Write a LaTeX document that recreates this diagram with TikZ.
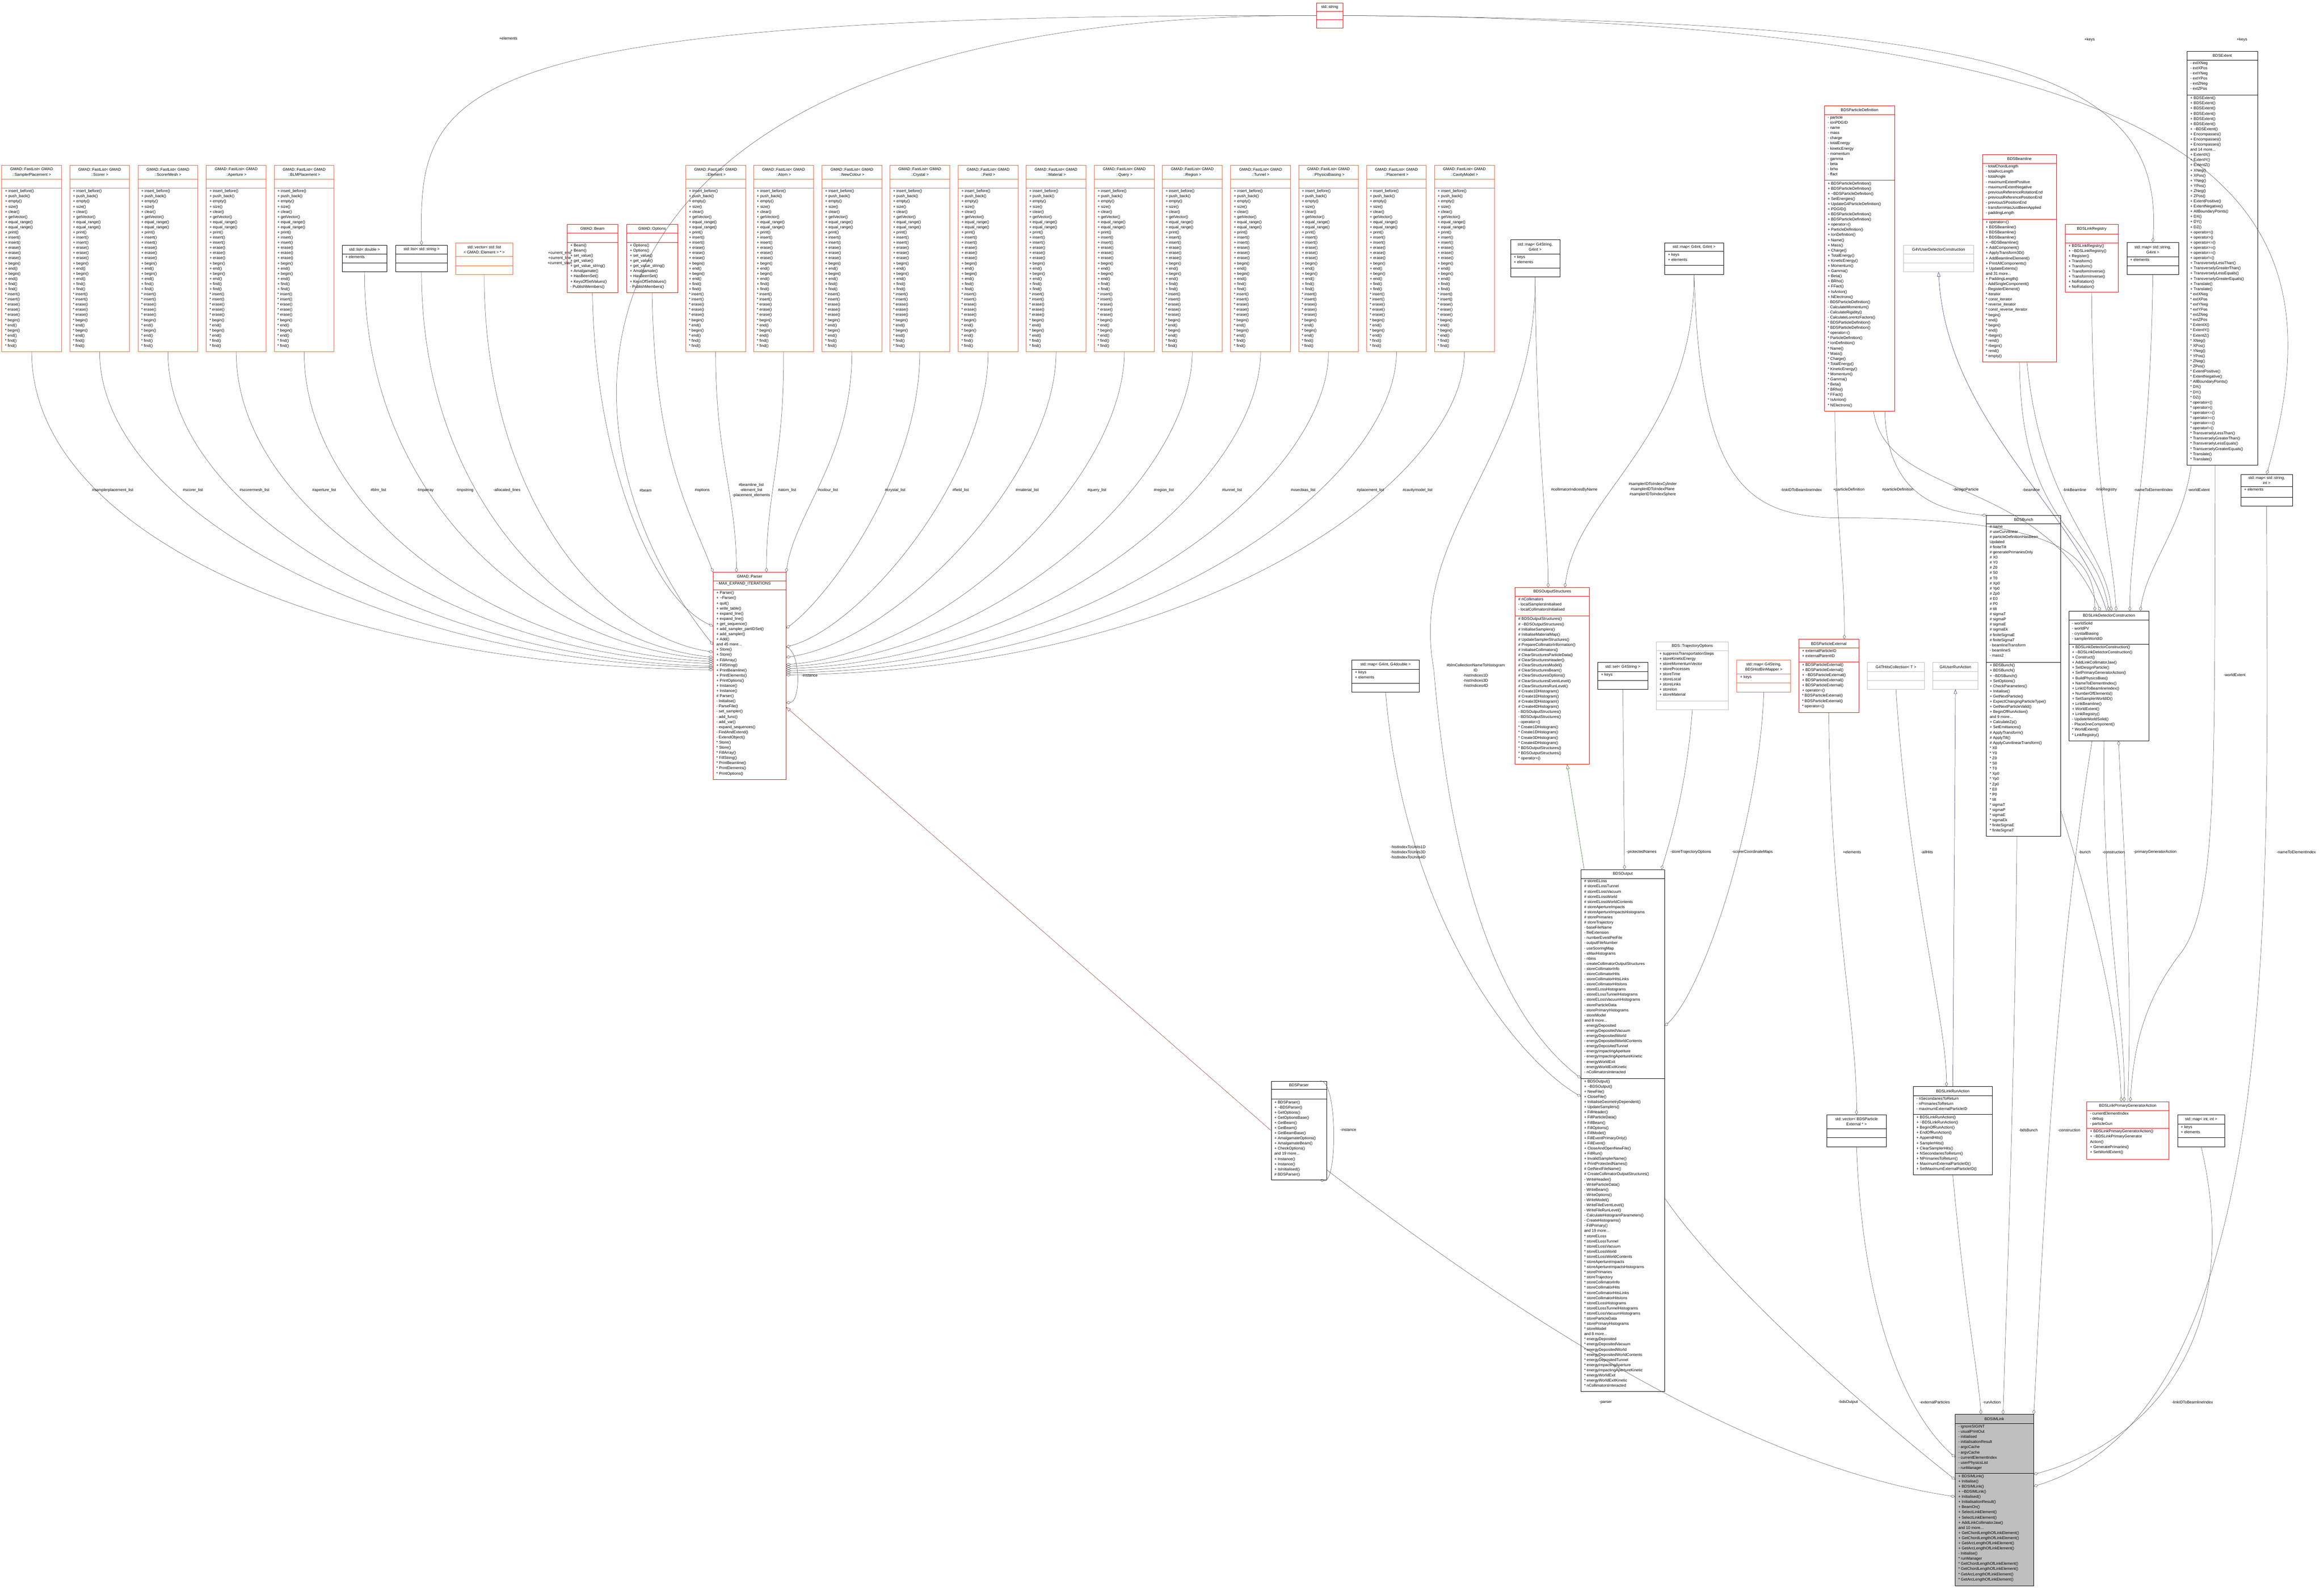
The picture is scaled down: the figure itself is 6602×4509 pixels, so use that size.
\documentclass[tikz,border=0pt]{standalone}
\usepackage{fontspec}
\setmainfont{Liberation Sans}
\usetikzlibrary{fit,calc,arrows.meta}
\definecolor{orb}{RGB}{255,94,40}
\definecolor{rdb}{RGB}{255,0,0}
\definecolor{gyb}{RGB}{191,191,191}
\definecolor{edg}{RGB}{64,64,64}
\definecolor{blu}{RGB}{25,25,112}
\definecolor{grn}{RGB}{0,100,0}
\definecolor{drd}{RGB}{139,26,26}
\newcommand\tl{\textasciitilde}
\newcommand\bx[9]{%
  \node[fit={(#2,#3)(#4,#5)}, inner sep=0pt, #8] (#1) {};
  \draw[#8] (#2,#6) -- (#4,#6) (#2,#7) -- (#4,#7);
  \node[ttl] (#1t) at ({(#2+#4)/2},{(#3+#6)/2}) {#9};}
\newcommand\bA[4]{\node[lst] (#1a) at ({#2+9},{#3+4}) {#4};}
\newcommand\bM[4]{\node[lst] (#1m) at ({#2+9},{#3+4}) {#4};}
\newcommand\lab[4]{\node[lb] (#1) at (#2,#3) {#4};}
\newcommand\flm{+ insert\_before()\\+ push\_back()\\+ empty()\\+ size()\\+ clear()\\+ getVector()\\+ equal\_range()\\+ equal\_range()\\+ print()\\+ insert()\\+ insert()\\+ erase()\\+ erase()\\+ erase()\\+ begin()\\+ end()\\+ begin()\\+ end()\\+ find()\\+ find()\\* insert()\\* insert()\\* erase()\\* erase()\\* erase()\\* begin()\\* end()\\* begin()\\* end()\\* find()\\* find()}
\newcommand\fl[3]{\bx{#1}{#2}{469}{#2+170}{999}{509}{534}{ob}{GMAD::FastList< GMAD\\::#3 >}\bM{#1}{#2}{534}{\flm}}
\tikzset{
  x=0.03cm, y=-0.03cm,
  txt/.style={font=\fontsize{9.5}{12.5}\selectfont},
  ttl/.style={txt, align=center, inner sep=0pt},
  lst/.style={txt, align=left, inner sep=0pt, anchor=north west},
  lb/.style={txt, align=center, inner sep=0pt},
  kb/.style={draw=black, line width=0.7pt},
  ob/.style={draw=orb, line width=0.7pt},
  rb/.style={draw=rdb, line width=0.7pt},
  gb/.style={draw=gyb, line width=0.7pt},
  fb/.style={draw=black, line width=0.7pt, fill=black!25},
  ag/.style={draw=edg, line width=0.55pt, -{Diamond[open,length=11pt,width=7pt]}},
  ih/.style={line width=0.55pt, -{Triangle[open,length=11pt,width=8pt]}},
}
\begin{document}
\begin{tikzpicture}
\useasboundingbox[fill=white] (0,0) rectangle (6602,4509);
% ---------- row 1
\fl{fla}{5}{SamplerPlacement}
\fl{flb}{198}{Scorer}
\fl{flc}{392}{ScorerMesh}
\fl{fld}{586}{Aperture}
\fl{fle}{779}{BLMPlacement}
\bx{ldouble}{972}{696}{1099}{772}{721}{747}{kb}{std::list< double >}\bA{ldouble}{972}{721}{+ elements}
\bx{lstring}{1124}{696}{1271}{772}{721}{747}{kb}{std::list< std::string >}
\bx{vlist}{1294}{689}{1457}{779}{728}{754}{ob}{std::vector< std::list\\< GMAD::Element > * >}
\bx{beam}{1611}{637}{1755}{831}{662}{688}{rb}{GMAD::Beam}
\bM{beam}{1611}{688}{+ Beam()\\+ Beam()\\+ set\_value()\\+ get\_value()\\+ get\_value\_string()\\+ Amalgamate()\\+ HasBeenSet()\\+ KeysOfSetValues()\\- PublishMembers()}
\bx{options}{1780}{637}{1925}{831}{662}{688}{rb}{GMAD::Options}
\bM{options}{1780}{688}{+ Options()\\+ Options()\\+ set\_value()\\+ get\_value()\\+ get\_value\_string()\\+ Amalgamate()\\+ HasBeenSet()\\+ KeysOfSetValues()\\- PublishMembers()}
\fl{fme}{1948}{Element}
\fl{fma}{2141}{Atom}
\fl{fmn}{2335}{NewColour}
\fl{fmc}{2528}{Crystal}
\fl{fmf}{2722}{Field}
\fl{fmm}{2915}{Material}
\fl{fmq}{3109}{Query}
\fl{fmr}{3302}{Region}
\fl{fmt}{3496}{Tunnel}
\fl{fmp}{3689}{PhysicsBiasing}
\fl{fml}{3882}{Placement}
\fl{fmv}{4075}{CavityModel}
\bx{str}{3740}{8}{3815}{80}{32}{56}{rb}{std::string}
% ---------- parser
\bx{parser}{2026}{1625}{2233}{2214}{1649}{1675}{rb}{GMAD::Parser}
\bA{parser}{2026}{1649}{- MAX\_EXPAND\_ITERATIONS}
\bM{parser}{2026}{1675}{+ Parser()\\+ \tl Parser()\\+ quit()\\+ write\_table()\\+ expand\_line()\\+ expand\_line()\\+ get\_sequence()\\+ add\_sampler\_partIDSet()\\+ add\_sampler()\\+ Add()\\and 45 more...\\+ Store()\\+ Store()\\+ FillArray()\\+ FillString()\\+ PrintBeamline()\\+ PrintElements()\\+ PrintOptions()\\+ Instance()\\+ Instance()\\\# Parser()\\- Initialise()\\- ParseFile()\\- set\_sampler()\\- add\_func()\\- add\_var()\\- expand\_sequences()\\- FindAndExtend()\\- ExtendObject()\\* Store()\\* Store()\\* FillArray()\\* FillString()\\* PrintBeamline()\\* PrintElements()\\* PrintOptions()}
% ---------- right top
\bx{mapSI}{4291}{681}{4431}{786}{721}{761}{kb}{std::map< G4String,\\G4int >}\bA{mapSI}{4291}{721}{+ keys\\+ elements}
\bx{mapII}{4729}{689}{4896}{779}{714}{753}{kb}{std::map< G4int, G4int >}\bA{mapII}{4729}{714}{+ keys\\+ elements}
\bx{pdef}{5183}{300}{5382}{1168}{325}{512}{rb}{BDSParticleDefinition}
\bA{pdef}{5183}{325}{- particle\\- ionPDGID\\- name\\- mass\\- charge\\- totalEnergy\\- kineticEnergy\\- momentum\\- gamma\\- beta\\- brho\\- ffact}
\bM{pdef}{5183}{512}{+ BDSParticleDefinition()\\+ BDSParticleDefinition()\\+ \tl BDSParticleDefinition()\\+ SetEnergies()\\+ UpdateG4ParticleDefinition()\\+ PDGID()\\+ BDSParticleDefinition()\\+ BDSParticleDefinition()\\+ operator=()\\+ ParticleDefinition()\\+ IonDefinition()\\+ Name()\\+ Mass()\\+ Charge()\\+ TotalEnergy()\\+ KineticEnergy()\\+ Momentum()\\+ Gamma()\\+ Beta()\\+ BRho()\\+ FFact()\\+ IsAnIon()\\+ NElectrons()\\- BDSParticleDefinition()\\- CalculateMomentum()\\- CalculateRigidity()\\- CalculateLorentzFactors()\\* BDSParticleDefinition()\\* BDSParticleDefinition()\\* operator=()\\* ParticleDefinition()\\* IonDefinition()\\* Name()\\* Mass()\\* Charge()\\* TotalEnergy()\\* KineticEnergy()\\* Momentum()\\* Gamma()\\* Beta()\\* BRho()\\* FFact()\\* IsAnIon()\\* NElectrons()}
\bx{gvudc}{5407}{696}{5607}{772}{722}{747}{gb}{G4VUserDetectorConstruction}
\bx{beamline}{5632}{439}{5842}{1028}{464}{622}{rb}{BDSBeamline}
\bA{beamline}{5632}{464}{- totalChordLength\\- totalArcLength\\- totalAngle\\- maximumExtentPositive\\- maximumExtentNegative\\- previousReferenceRotationEnd\\- previousReferencePositionEnd\\- previousSPositionEnd\\- transformHasJustBeenApplied\\- paddingLength}
\bM{beamline}{5632}{622}{+ operator=()\\+ BDSBeamline()\\+ BDSBeamline()\\+ BDSBeamline()\\+ \tl BDSBeamline()\\+ AddComponent()\\+ ApplyTransform3D()\\+ AddBeamlineElement()\\+ PrintAllComponents()\\+ UpdateExtents()\\and 31 more...\\+ PaddingLength()\\- AddSingleComponent()\\- RegisterElement()\\* iterator\\* const\_iterator\\* reverse\_iterator\\* const\_reverse\_iterator\\* begin()\\* end()\\* begin()\\* end()\\* rbegin()\\* rend()\\* rbegin()\\* rend()\\* empty()}
\bx{linkreg}{5867}{637}{6017}{830}{664}{689}{rb}{BDSLinkRegistry}
\bM{linkreg}{5867}{689}{+ BDSLinkRegistry()\\+ \tl BDSLinkRegistry()\\+ Register()\\+ Transform()\\+ Transform()\\+ TransformInverse()\\+ TransformInverse()\\+ NoRotation()\\+ NoRotation()}
\bx{mapSG}{6042}{688}{6189}{779}{729}{754}{kb}{std::map< std::string,\\G4int >}\bA{mapSG}{6042}{729}{+ elements}
\bx{extent}{6213}{146}{6413}{1321}{171}{270}{kb}{BDSExtent}
\bA{extent}{6213}{171}{- extXNeg\\- extXPos\\- extYNeg\\- extYPos\\- extZNeg\\- extZPos}
\bM{extent}{6213}{270}{+ BDSExtent()\\+ BDSExtent()\\+ BDSExtent()\\+ BDSExtent()\\+ BDSExtent()\\+ BDSExtent()\\+ \tl BDSExtent()\\+ Encompasses()\\+ Encompasses()\\+ Encompasses()\\and 14 more...\\+ ExtentX()\\+ ExtentY()\\+ ExtentZ()\\+ XNeg()\\+ XPos()\\+ YNeg()\\+ YPos()\\+ ZNeg()\\+ ZPos()\\+ ExtentPositive()\\+ ExtentNegative()\\+ AllBoundaryPoints()\\+ DX()\\+ DY()\\+ DZ()\\+ operator<()\\+ operator>()\\+ operator<=()\\+ operator>=()\\+ operator==()\\+ operator!=()\\+ TransverselyLessThan()\\+ TransverselyGreaterThan()\\+ TransverselyLessEquals()\\+ TransverselyGreaterEquals()\\+ Translate()\\+ Translate()\\* extXNeg\\* extXPos\\* extYNeg\\* extYPos\\* extZNeg\\* extZPos\\* ExtentX()\\* ExtentY()\\* ExtentZ()\\* XNeg()\\* XPos()\\* YNeg()\\* YPos()\\* ZNeg()\\* ZPos()\\* ExtentPositive()\\* ExtentNegative()\\* AllBoundaryPoints()\\* DX()\\* DY()\\* DZ()\\* operator<()\\* operator>()\\* operator<=()\\* operator>=()\\* operator==()\\* operator!=()\\* TransverselyLessThan()\\* TransverselyGreaterThan()\\* TransverselyLessEquals()\\* TransverselyGreaterEquals()\\* Translate()\\* Translate()}
\bx{mapSi}{6366}{1347}{6512}{1437}{1382}{1412}{kb}{std::map< std::string,\\int >}\bA{mapSi}{6366}{1382}{+ elements}
% ---------- middle
\bx{bunch}{5643}{1464}{5854}{2375}{1487}{1881}{kb}{BDSBunch}
\bA{bunch}{5643}{1487}{\# name\\\# useCurvilinear\\\# particleDefinitionHasBeen\\Updated\\\# finiteTilt\\\# generatePrimariesOnly\\\# X0\\\# Y0\\\# Z0\\\# S0\\\# T0\\\# Xp0\\\# Yp0\\\# Zp0\\\# E0\\\# P0\\\# tilt\\\# sigmaT\\\# sigmaP\\\# sigmaE\\\# sigmaEk\\\# finiteSigmaE\\\# finiteSigmaT\\- beamlineTransform\\- beamlineS\\- mass2}
\bM{bunch}{5643}{1881}{+ BDSBunch()\\+ BDSBunch()\\+ \tl BDSBunch()\\+ SetOptions()\\+ CheckParameters()\\+ Initialise()\\+ GetNextParticle()\\+ ExpectChangingParticleType()\\+ GetNextParticleValid()\\+ BeginOfRunAction()\\and 9 more...\\+ CalculateZp()\\+ SetEmittances()\\\# ApplyTransform()\\\# ApplyTilt()\\\# ApplyCurvilinearTransform()\\* X0\\* Y0\\* Z0\\* S0\\* T0\\* Xp0\\* Yp0\\* Zp0\\* E0\\* P0\\* tilt\\* sigmaT\\* sigmaP\\* sigmaE\\* sigmaEk\\* finiteSigmaE\\* finiteSigmaT}
\bx{ldc}{5877}{1735}{6105}{2104}{1761}{1829}{kb}{BDSLinkDetectorConstruction}
\bA{ldc}{5877}{1761}{- worldSolid\\- worldPV\\- crystalBiasing\\- samplerWorldID}
\bM{ldc}{5877}{1829}{+ BDSLinkDetectorConstruction()\\+ \tl BDSLinkDetectorConstruction()\\+ Construct()\\+ AddLinkCollimatorJaw()\\+ SetDesignParticle()\\+ SetPrimaryGeneratorAction()\\+ BuildPhysicsBias()\\+ NameToElementIndex()\\+ LinkIDToBeamlineIndex()\\+ NumberOfElements()\\+ SetSamplerWorldID()\\+ LinkBeamline()\\+ WorldExtent()\\+ LinkRegistry()\\- UpdateWorldSolid()\\- PlaceOneComponent()\\* WorldExtent()\\* LinkRegistry()}
\bx{mapID}{3840}{1874}{4032}{1965}{1900}{1940}{kb}{std::map< G4int, G4double >}\bA{mapID}{3840}{1900}{+ keys\\+ elements}
\bx{outs}{4304}{1668}{4515}{2170}{1693}{1749}{rb}{BDSOutputStructures}
\bA{outs}{4304}{1693}{\# nCollimators\\- localSamplersInitialised\\- localCollimatorsInitialised}
\bM{outs}{4304}{1749}{\# BDSOutputStructures()\\\# \tl BDSOutputStructures()\\\# InitialiseSamplers()\\\# InitialiseMaterialMap()\\\# UpdateSamplerStructures()\\\# PrepareCollimatorInformation()\\\# InitialiseCollimators()\\\# ClearStructuresParticleData()\\\# ClearStructuresHeader()\\\# ClearStructuresModel()\\\# ClearStructuresBeam()\\\# ClearStructuresOptions()\\\# ClearStructuresEventLevel()\\\# ClearStructuresRunLevel()\\\# Create1DHistogram()\\\# Create1DHistogram()\\\# Create3DHistogram()\\\# Create4DHistogram()\\- BDSOutputStructures()\\- BDSOutputStructures()\\- operator=()\\* Create1DHistogram()\\* Create1DHistogram()\\* Create3DHistogram()\\* Create4DHistogram()\\* BDSOutputStructures()\\* BDSOutputStructures()\\* operator=()}
\bx{setS}{4539}{1881}{4681}{1957}{1907}{1932}{kb}{std::set< G4String >}\bA{setS}{4539}{1907}{+ keys}
\bx{traj}{4705}{1822}{4910}{2015}{1847}{1990}{gb}{BDS::TrajectoryOptions}
\bA{traj}{4705}{1847}{+ suppressTransportationSteps\\+ storeKineticEnergy\\+ storeMomentumVector\\+ storeProcesses\\+ storeTime\\+ storeLocal\\+ storeLinks\\+ storeIon\\+ storeMaterial}
\bx{mapHB}{4934}{1874}{5087}{1965}{1914}{1939}{ob}{std::map< G4String,\\BDSHistBinMapper >}\bA{mapHB}{4934}{1914}{+ keys}
\bx{pext}{5110}{1815}{5280}{2023}{1840}{1879}{rb}{BDSParticleExternal}
\bA{pext}{5110}{1840}{+ externalParticleID\\+ externalParentID}
\bM{pext}{5110}{1879}{+ BDSParticleExternal()\\+ BDSParticleExternal()\\+ \tl BDSParticleExternal()\\+ BDSParticleExternal()\\+ BDSParticleExternal()\\+ operator=()\\* BDSParticleExternal()\\* BDSParticleExternal()\\* operator=()}
\bx{hits}{5305}{1881}{5467}{1957}{1907}{1932}{gb}{G4THitsCollection< T >}
\bx{ura}{5491}{1881}{5619}{1957}{1907}{1932}{gb}{G4UserRunAction}
% ---------- lower
\bx{output}{4491}{2469}{4729}{3951}{2494}{3062}{kb}{BDSOutput}
\bA{output}{4491}{2494}{\# storeELoss\\\# storeELossTunnel\\\# storeELossVacuum\\\# storeELossWorld\\\# storeELossWorldContents\\\# storeApertureImpacts\\\# storeApertureImpactsHistograms\\\# storePrimaries\\\# storeTrajectory\\- baseFileName\\- fileExtension\\- numberEventPerFile\\- outputFileNumber\\- useScoringMap\\- sMaxHistograms\\- nbins\\- createCollimatorOutputStructures\\- storeCollimatorInfo\\- storeCollimatorHits\\- storeCollimatorHitsLinks\\- storeCollimatorHitsIons\\- storeELossHistograms\\- storeELossTunnelHistograms\\- storeELossVacuumHistograms\\- storeParticleData\\- storePrimaryHistograms\\- storeModel\\and 8 more...\\- energyDeposited\\- energyDepositedVacuum\\- energyDepositedWorld\\- energyDepositedWorldContents\\- energyDepositedTunnel\\- energyImpactingAperture\\- energyImpactingApertureKinetic\\- energyWorldExit\\- energyWorldExitKinetic\\- nCollimatorsInteracted}
\bM{output}{4491}{3062}{+ BDSOutput()\\+ \tl BDSOutput()\\+ NewFile()\\+ CloseFile()\\+ InitialiseGeometryDependent()\\+ UpdateSamplers()\\+ FillHeader()\\+ FillParticleData()\\+ FillBeam()\\+ FillOptions()\\+ FillModel()\\+ FillEventPrimaryOnly()\\+ FillEvent()\\+ CloseAndOpenNewFile()\\+ FillRun()\\+ InvalidSamplerName()\\+ PrintProtectedNames()\\\# GetNextFileName()\\\# CreateCollimatorOutputStructures()\\- WriteHeader()\\- WriteParticleData()\\- WriteBeam()\\- WriteOptions()\\- WriteModel()\\- WriteFileEventLevel()\\- WriteFileRunLevel()\\- CalculateHistogramParameters()\\- CreateHistograms()\\- FillPrimary()\\and 19 more...\\* storeELoss\\* storeELossTunnel\\* storeELossVacuum\\* storeELossWorld\\* storeELossWorldContents\\* storeApertureImpacts\\* storeApertureImpactsHistograms\\* storePrimaries\\* storeTrajectory\\* storeCollimatorInfo\\* storeCollimatorHits\\* storeCollimatorHitsLinks\\* storeCollimatorHitsIons\\* storeELossHistograms\\* storeELossTunnelHistograms\\* storeELossVacuumHistograms\\* storeParticleData\\* storePrimaryHistograms\\* storeModel\\and 8 more...\\* energyDeposited\\* energyDepositedVacuum\\* energyDepositedWorld\\* energyDepositedWorldContents\\* energyDepositedTunnel\\* energyImpactingAperture\\* energyImpactingApertureKinetic\\* energyWorldExit\\* energyWorldExitKinetic\\* nCollimatorsInteracted}
\bx{bparser}{3611}{3070}{3769}{3350}{3093}{3121}{kb}{BDSParser}
\bM{bparser}{3611}{3121}{+ BDSParser()\\+ \tl BDSParser()\\+ GetOptions()\\+ GetOptionsBase()\\+ GetBeam()\\+ GetBeam()\\+ GetBeamBase()\\+ AmalgamateOptions()\\+ AmalgamateBeam()\\+ CheckOptions()\\and 19 more...\\+ Instance()\\+ Instance()\\+ IsInitialised()\\\# BDSParser()}
\bx{vpe}{5190}{3165}{5358}{3256}{3205}{3230}{kb}{std::vector< BDSParticle\\External * >}
\bx{lra}{5435}{3085}{5660}{3336}{3111}{3164}{kb}{BDSLinkRunAction}
\bA{lra}{5435}{3111}{- nSecondariesToReturn\\- nPrimariesToReturn\\- maximumExternalParticleID}
\bM{lra}{5435}{3164}{+ BDSLinkRunAction()\\+ \tl BDSLinkRunAction()\\+ BeginOfRunAction()\\+ EndOfRunAction()\\+ AppendHits()\\+ SamplerHits()\\+ ClearSamplerHits()\\+ NSecondariesToReturn()\\+ NPrimariesToReturn()\\+ MaximumExternalParticleID()\\+ SetMaximumExternalParticleID()}
\bx{lpga}{5928}{3128}{6161}{3292}{3153}{3204}{rb}{BDSLinkPrimaryGeneratorAction}
\bA{lpga}{5928}{3153}{- currentElementIndex\\- debug\\- particleGun}
\bM{lpga}{5928}{3204}{+ BDSLinkPrimaryGeneratorAction()\\+ \tl BDSLinkPrimaryGenerator\\Action()\\+ GeneratePrimaries()\\+ SetWorldExtent()}
\bx{mapii}{6186}{3165}{6320}{3256}{3192}{3230}{kb}{std::map< int, int >}\bA{mapii}{6186}{3192}{+ keys\\+ elements}
\bx{link}{5554}{4016}{5777}{4503}{4042}{4183}{fb}{BDSIMLink}
\bA{link}{5554}{4042}{- ignoreSIGINT\\- usualPrintOut\\- initialised\\- initialisationResult\\- argcCache\\- argvCache\\- currentElementIndex\\- userPhysicsList\\- runManager}
\bM{link}{5554}{4183}{+ BDSIMLink()\\+ Initialise()\\+ BDSIMLink()\\+ \tl BDSIMLink()\\+ Initialised()\\+ InitialisationResult()\\+ BeamOn()\\+ SelectLinkElement()\\+ SelectLinkElement()\\+ AddLinkCollimatorJaw()\\and 10 more...\\+ GetChordLengthOfLinkElement()\\+ GetChordLengthOfLinkElement()\\+ GetArcLengthOfLinkElement()\\+ GetArcLengthOfLinkElement()\\- Initialise()\\* runManager\\* GetChordLengthOfLinkElement()\\* GetChordLengthOfLinkElement()\\* GetArcLengthOfLinkElement()\\* GetArcLengthOfLinkElement()}
% ================= connectors
% row 1 -> parser (left)
\draw[ag] (fla.south) .. controls (90,1500) and (900,1890) .. ($(parser.north west)!0.47!(parser.south west)$);
\draw[ag] (flb.south) .. controls (283,1450) and (1100,1880) .. ($(parser.north west)!0.46!(parser.south west)$);
\draw[ag] (flc.south) .. controls (477,1450) and (1200,1870) .. ($(parser.north west)!0.453!(parser.south west)$);
\draw[ag] (fld.south) .. controls (671,1450) and (1300,1860) .. ($(parser.north west)!0.44!(parser.south west)$);
\draw[ag] (fle.south) .. controls (864,1450) and (1400,1850) .. ($(parser.north west)!0.43!(parser.south west)$);
\draw[ag] (ldouble.south) .. controls (1035,1400) and (1500,1830) .. ($(parser.north west)!0.42!(parser.south west)$);
\draw[ag] (lstring.south) .. controls (1197,1400) and (1600,1820) .. ($(parser.north west)!0.41!(parser.south west)$);
\draw[ag] (vlist.south) .. controls (1375,1400) and (1700,1800) .. ($(parser.north west)!0.385!(parser.south west)$);
\draw[ag] (beam.south) .. controls (1690,1300) and (1850,1700) .. ($(parser.north west)!0.26!(parser.south west)$);
\draw[ag] (options.south) .. controls (1860,1300) and (1960,1450) .. (parser.north west);
\draw[ag] (str.west) .. controls (1530,40) and (1520,1200) .. ($(parser.north west)!0.35!(parser.south west)$);
\draw[ag] (str.west) .. controls (1250,40) and (1190,250) .. (lstring.north);
% row 2 -> parser
\draw[ag] (fme.south) .. controls (2033,1300) and (2091,1400) .. ($(parser.north west)!0.32!(parser.north east)$);
\draw[ag] (fma.south) .. controls (2228,1300) and (2177,1400) .. ($(parser.north west)!0.73!(parser.north east)$);
\draw[ag] (fmn.south) .. controls (2420,1300) and (2260,1450) .. (parser.north east);
\draw[ag] (fmc.south) .. controls (2613,1350) and (2350,1700) .. ($(parser.north east)!0.27!(parser.south east)$);
\draw[ag] (fmf.south) .. controls (2807,1350) and (2450,1780) .. ($(parser.north east)!0.36!(parser.south east)$);
\draw[ag] (fmm.south) .. controls (3000,1350) and (2550,1820) .. ($(parser.north east)!0.41!(parser.south east)$);
\draw[ag] (fmq.south) .. controls (3194,1350) and (2700,1850) .. ($(parser.north east)!0.445!(parser.south east)$);
\draw[ag] (fmr.south) .. controls (3387,1350) and (2850,1860) .. ($(parser.north east)!0.455!(parser.south east)$);
\draw[ag] (fmt.south) .. controls (3581,1350) and (3000,1870) .. ($(parser.north east)!0.465!(parser.south east)$);
\draw[ag] (fmp.south) .. controls (3774,1350) and (3150,1880) .. ($(parser.north east)!0.475!(parser.south east)$);
\draw[ag] (fml.south) .. controls (3967,1350) and (3300,1890) .. ($(parser.north east)!0.485!(parser.south east)$);
\draw[ag] (fmv.south) .. controls (4160,1350) and (3450,1900) .. ($(parser.north east)!0.495!(parser.south east)$);
\draw[ag] ($(parser.north east)!0.36!(parser.south east)$) .. controls (2275,1850) and (2275,1990) .. ($(parser.north east)!0.63!(parser.south east)$);
\draw[ih, drd] (bparser.west) -- ($(parser.north east)!0.65!(parser.south east)$);
% BDSParser
\draw[ag] ($(bparser.north east)+(-20,0)$) .. controls (3800,3060) and (3800,3360) .. ($(bparser.south east)+(-20,0)$);
\draw[ag] ($(bparser.north east)!0.9!(bparser.south east)$) .. controls (4200,3650) and (4900,4150) .. ($(link.north west)!0.48!(link.south west)$);
% output region
\draw[ag] (mapSI.south) .. controls (4365,1300) and (4398,1500) .. ($(outs.north west)!0.445!(outs.north east)$);
\draw[ag] (mapSI.south) .. controls (4363,1300) and (4000,1500) .. (4073,1900) .. controls (4140,2700) and (4350,2950) .. ($(output.north west)!0.40!(output.south west)$);
\draw[ag] (mapII.south) .. controls (4812,1250) and (4480,1400) .. ($(outs.north west)!0.67!(outs.north east)$);
\draw[ag] (mapII.south) .. controls (4830,1350) and (4950,1460) .. (5200,1470) .. controls (5800,1470) and (5950,1550) .. ($(ldc.north west)!0.325!(ldc.north east)$);
\draw[ag] (mapID.south) .. controls (3990,2600) and (4300,3000) .. ($(output.north west)!0.435!(output.south west)$);
\draw[ih, grn] ($(output.north west)!0.04!(output.north east)$) -- ($(outs.south west)!0.7!(outs.south east)$);
\draw[ag] (setS.south) -- ($(output.north west)!0.52!(output.north east)$);
\draw[ag] (traj.south) .. controls (4790,2250) and (4740,2400) .. ($(output.north west)!0.96!(output.north east)$);
\draw[ag] (mapHB.south) .. controls (5000,2300) and (4850,2800) .. ($(output.north east)!0.30!(output.south east)$);
\draw[ag] ($(output.north east)!0.63!(output.south east)$) .. controls (4900,3650) and (5300,4000) .. ($(link.north west)!0.38!(link.south west)$);
% particles
\draw[ag] ($(pdef.south west)!0.15!(pdef.south east)$) .. controls (5215,1500) and (5240,1600) .. ($(pext.north west)!0.76!(pext.north east)$);
\draw[ag] ($(pdef.south west)!0.86!(pdef.south east)$) .. controls (5360,1400) and (5500,1450) .. (bunch.north west);
\draw[ag] ($(pdef.south west)!0.7!(pdef.south east)$) .. controls (5360,1420) and (5800,1350) .. ($(ldc.north west)!0.395!(ldc.north east)$);
\draw[ag] (pext.south) .. controls (5200,2600) and (5275,2900) .. (vpe.north);
\draw[ag] (hits.south) .. controls (5420,2500) and (5530,2900) .. ($(lra.north west)!0.42!(lra.north east)$);
\draw[ih, blu] ($(lra.north west)!0.5!(lra.north east)$) -- (ura.south);
\draw[ih, blu] ($(ldc.north west)!0.47!(ldc.north east)$) .. controls (5900,1450) and (5530,1200) .. (gvudc.south);
\draw[ag] ($(beamline.south west)!0.5!(beamline.south east)$) .. controls (5740,1500) and (5950,1500) .. ($(ldc.north west)!0.5!(ldc.north east)$);
\draw[ag] ($(beamline.south west)!0.6!(beamline.south east)$) .. controls (5800,1450) and (5980,1550) .. ($(ldc.north west)!0.53!(ldc.north east)$);
\draw[ag] (linkreg.south) .. controls (5945,1400) and (6000,1550) .. ($(ldc.north west)!0.59!(ldc.north east)$);
\draw[ag] (mapSG.south) .. controls (6110,1300) and (6050,1550) .. ($(ldc.north west)!0.76!(ldc.north east)$);
\draw[ag] ($(extent.south west)!0.06!(extent.south east)$) .. controls (6200,1500) and (6100,1600) .. ($(ldc.north west)!0.89!(ldc.north east)$);
\draw[ag] (str.east) .. controls (5700,60) and (6150,200) .. (mapSG.north);
\draw[ag] (str.east) .. controls (6400,60) and (6650,600) .. (mapSi.north);
% link, generator
\draw[ag] ($(bunch.north east)!0.92!(bunch.south east)$) .. controls (5950,2600) and (6020,2900) .. ($(lpga.north west)!0.42!(lpga.north east)$);
\draw[ag] ($(ldc.south west)!0.44!(ldc.south east)$) .. controls (5970,2600) and (6040,2900) .. ($(lpga.north west)!0.455!(lpga.north east)$);
\draw[ag] ($(lpga.north west)!0.5!(lpga.north east)$) .. controls (6060,2700) and (6030,2400) .. ($(ldc.south west)!0.62!(ldc.south east)$);
\draw[ag] ($(extent.south west)!0.4!(extent.south east)$) .. controls (6290,2200) and (6300,2550) .. (6200,2700) .. controls (6080,2850) and (6060,3000) .. ($(lpga.north west)!0.53!(lpga.north east)$);
\draw[ag] ($(bunch.south west)!0.41!(bunch.south east)$) .. controls (5725,3000) and (5700,3700) .. ($(link.north west)!0.61!(link.north east)$);
\draw[ag] ($(ldc.south west)!0.29!(ldc.south east)$) .. controls (5830,2800) and (5800,3600) .. (link.north east);
\draw[ag] (lra.south) .. controls (5580,3700) and (5620,3900) .. ($(link.north west)!0.33!(link.north east)$);
\draw[ag] (vpe.south) .. controls (5290,3700) and (5400,4000) .. ($(link.north west)!0.25!(link.south west)$);
\draw[ag] (mapii.south) .. controls (6380,3800) and (6100,4100) .. ($(link.north east)!0.35!(link.south east)$);
\draw[ag] (mapSi.south) .. controls (6440,2500) and (6500,4000) .. ($(link.north east)!0.42!(link.south east)$);
% ================= labels
\lab{L1}{320}{1392}{\#samplerplacement\_list}
\lab{L2}{548}{1392}{\#scorer\_list}
\lab{L3}{723}{1392}{\#scorermesh\_list}
\lab{L4}{921}{1392}{\#aperture\_list}
\lab{L5}{1075}{1392}{\#blm\_list}
\lab{L6}{1208}{1392}{-tmparray}
\lab{L7}{1320}{1392}{-tmpstring}
\lab{L8}{1440}{1392}{-allocated\_lines}
\lab{L9}{1834}{1392}{\#beam}
\lab{L10}{1995}{1392}{\#options}
\lab{L11}{2134}{1392}{\#beamline\_list\\-element\_list\\-placement\_elements}
\lab{L12}{2236}{1392}{\#atom\_list}
\lab{L13}{2352}{1392}{\#colour\_list}
\lab{L14}{2543}{1392}{\#crystal\_list}
\lab{L15}{2729}{1392}{\#field\_list}
\lab{L16}{2918}{1392}{\#material\_list}
\lab{L17}{3116}{1392}{\#query\_list}
\lab{L18}{3306}{1392}{\#region\_list}
\lab{L19}{3500}{1392}{\#tunnel\_list}
\lab{L20}{3702}{1392}{\#xsecbias\_list}
\lab{L21}{3893}{1392}{\#placement\_list}
\lab{L22}{4027}{1392}{\#cavitymodel\_list}
\lab{L23}{1590}{733}{+current\_end\\+current\_line\\+current\_start}
\lab{L24}{1444}{109}{+elements}
\lab{L25}{2300}{1918}{-instance}
\lab{L26}{3830}{3208}{-instance}
\lab{L27}{4561}{3982}{-parser}
\lab{L28}{4472}{1391}{\#collimatorIndicesByName}
\lab{L29}{4695}{1390}{\#samplerIDToIndexCylinder\\\#samplerIDToIndexPlane\\\#samplerIDToIndexSphere}
\lab{L30}{5117}{1391}{-linkIDToBeamlineIndex}
\lab{L31}{5252}{1391}{+particleDefinition}
\lab{L32}{5391}{1391}{\#particleDefinition}
\lab{L33}{5584}{1391}{-designParticle}
\lab{L34}{5770}{1391}{-beamline}
\lab{L35}{5893}{1391}{-linkBeamline}
\lab{L36}{5983}{1391}{-linkRegistry}
\lab{L37}{6117}{1391}{-nameToElementIndex}
\lab{L38}{6246}{1391}{-worldExtent}
\lab{L39}{5936}{112}{+keys}
\lab{L40}{6369}{112}{+keys}
\lab{L41}{6348}{1917}{-worldExtent}
\lab{L42}{4192}{1918}{\#blmCollectionNameToHistogram\\ID\\-histIndices1D\\-histIndices3D\\-histIndices4D}
\lab{L43}{4000}{2420}{-histIndexToUnits1D\\-histIndexToUnits3D\\-histIndexToUnits4D}
\lab{L44}{4663}{2420}{-protectedNames}
\lab{L45}{4803}{2420}{-storeTrajectoryOptions}
\lab{L46}{4978}{2420}{-scorerCoordinateMaps}
\lab{L47}{5261}{2420}{+elements}
\lab{L48}{5474}{2420}{-allHits}
\lab{L49}{5922}{2420}{-bunch}
\lab{L50}{6004}{2420}{-construction}
\lab{L51}{6122}{2420}{-primaryGeneratorAction}
\lab{L52}{6523}{2420}{-nameToElementIndex}
\lab{L53}{5762}{3209}{-bdsBunch}
\lab{L54}{5878}{3209}{-construction}
\lab{L55}{5250}{3982}{-bdsOutput}
\lab{L56}{5496}{3982}{-externalParticles}
\lab{L57}{5658}{3982}{-runAction}
\lab{L58}{6228}{3982}{-linkIDToBeamlineIndex}
\end{tikzpicture}
\end{document}
